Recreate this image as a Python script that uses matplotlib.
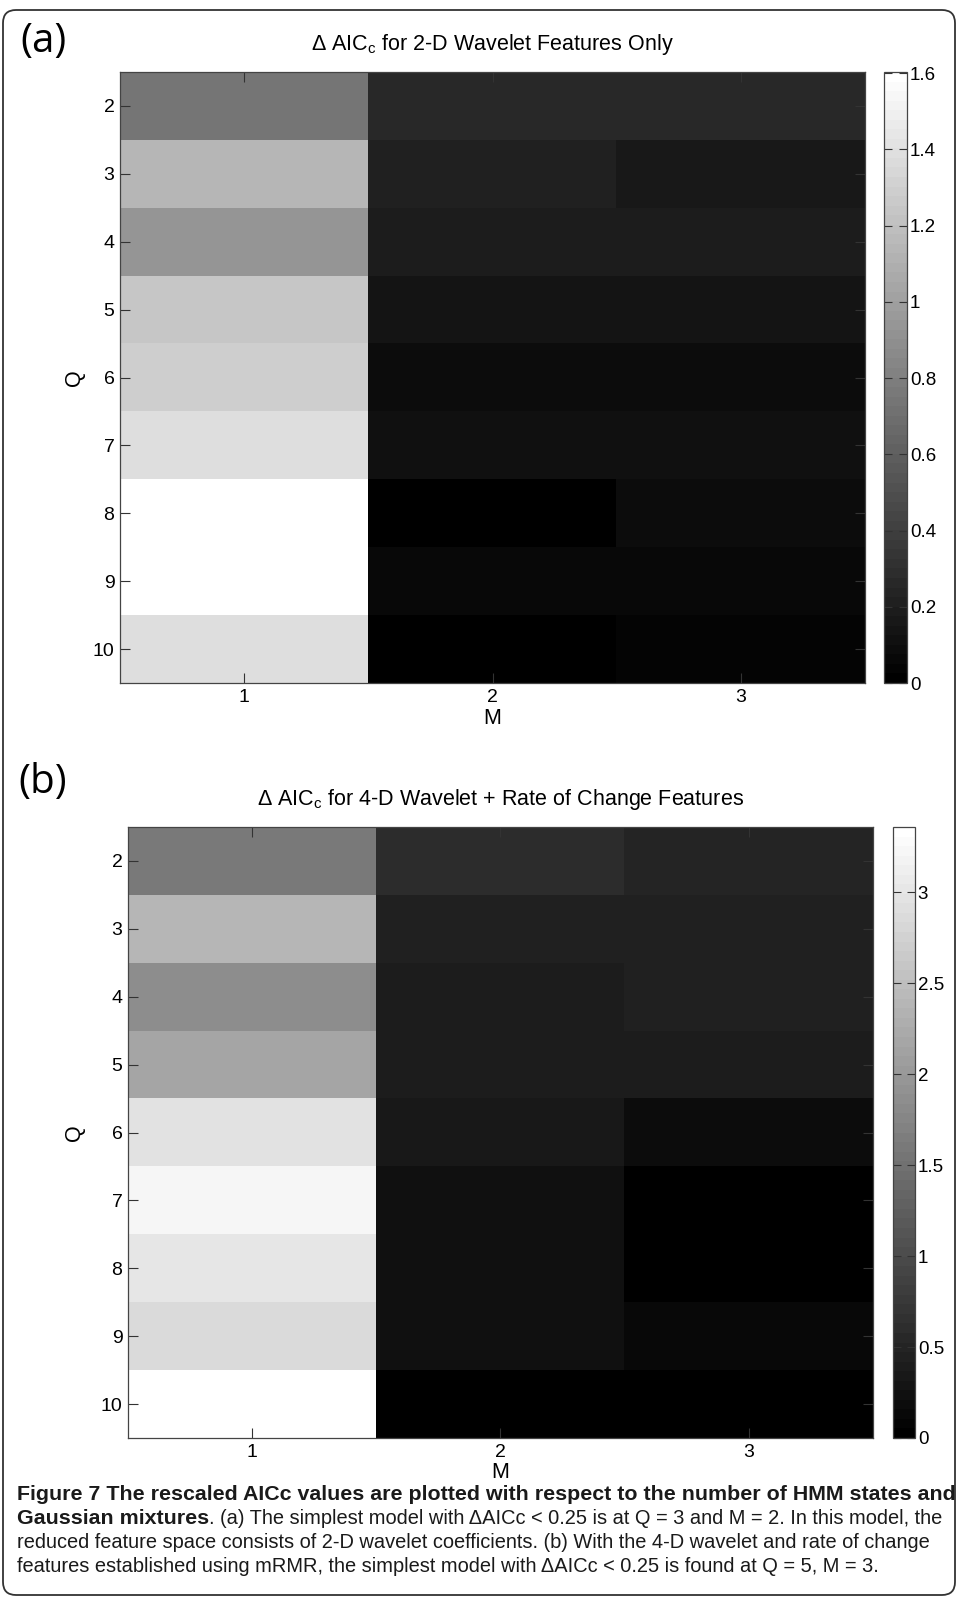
import matplotlib
matplotlib.use('Agg')
import matplotlib.pyplot as plt
from matplotlib import font_manager as fm
from matplotlib.patches import FancyBboxPatch
from matplotlib.ticker import FormatStrFormatter
import numpy as np

# ---- data (rows: Q = 2..10, columns: M = 1..3) ----
q_states = [2, 3, 4, 5, 6, 7, 8, 9, 10]
m_mix = [1, 2, 3]

aic_a_m1 = [0.75, 1.13, 0.94, 1.25, 1.28, 1.40, 1.60, 1.60, 1.40]
aic_a_m2 = [0.26, 0.21, 0.18, 0.14, 0.09, 0.11, 0.01, 0.06, 0.00]
aic_a_m3 = [0.27, 0.17, 0.18, 0.13, 0.08, 0.11, 0.10, 0.06, 0.04]

aic_b_m1 = [1.58, 2.37, 1.85, 2.19, 2.98, 3.23, 3.03, 2.85, 3.36]
aic_b_m2 = [0.61, 0.45, 0.37, 0.37, 0.32, 0.24, 0.21, 0.24, 0.00]
aic_b_m3 = [0.50, 0.45, 0.42, 0.37, 0.18, 0.05, 0.05, 0.13, 0.01]

clim_a = (0, 1.603)
clim_b = (0, 3.36)
cticks_a = [0, 0.2, 0.4, 0.6, 0.8, 1.0, 1.2, 1.4, 1.6]
cticks_b = [0, 0.5, 1.0, 1.5, 2.0, 2.5, 3.0]

title_a = r'$\Delta$ AIC$_\mathregular{c}$ for 2-D Wavelet Features Only'
title_b = r'$\Delta$ AIC$_\mathregular{c}$ for 4-D Wavelet + Rate of Change Features'


def have(name):
    try:
        fm.findfont(name, fallback_to_default=False)
        return True
    except Exception:
        return False


NARROW = 'Liberation Sans Narrow' if have('Liberation Sans Narrow') else 'Liberation Sans'
ARIAL = 'Liberation Sans'
plt.rcParams['font.family'] = [ARIAL, 'DejaVu Sans']
plt.rcParams['mathtext.fontset'] = 'custom'
plt.rcParams['mathtext.rm'] = NARROW
plt.rcParams['mathtext.it'] = NARROW

W, H = 958, 1600
fig = plt.figure(figsize=(W / 100, H / 100), dpi=100)
fig.patch.set_facecolor('white')


def box(x0, x1, y0, y1):
    # pixel box (top-left origin) -> figure fraction rect
    return [x0 / W, 1 - y1 / H, (x1 - x0) / W, (y1 - y0) / H]


def fx(x):
    return x / W


def fy(y):
    return 1 - y / H


# rounded frame around everything
frame = FancyBboxPatch((3 / 100, (H - 1595) / 100), 952 / 100, 1585 / 100,
                       boxstyle='round,pad=0,rounding_size=0.13',
                       transform=fig.dpi_scale_trans, fill=False,
                       edgecolor='#333333', linewidth=1.3)
fig.patches.append(frame)

cmap = plt.get_cmap('gray', 64)


def panel(ax_px, cax_px, cols, clim, cticks, title):
    left, right, top, bottom = ax_px
    data = np.column_stack(cols)
    ax = fig.add_axes(box(left, right, top, bottom))
    im = ax.imshow(data, cmap=cmap, vmin=clim[0], vmax=clim[1], aspect='auto',
                   interpolation='nearest',
                   extent=[0.5, len(m_mix) + 0.5, q_states[-1] + 0.5, q_states[0] - 0.5])
    ax.set_xticks(m_mix)
    ax.set_yticks(q_states)
    ax.set_xticklabels([str(m) for m in m_mix], fontsize=14, family=NARROW)
    ax.set_yticklabels([str(q) for q in q_states], fontsize=14)
    ax.tick_params(direction='in', length=7, width=0.8, color='#333333',
                   top=True, right=True, pad=4)
    for s in ax.spines.values():
        s.set_color('#444444')
        s.set_linewidth(0.9)
    ax.set_title(title, fontsize=15.5, family=NARROW, pad=16)

    cax = fig.add_axes(box(*cax_px))
    cb = fig.colorbar(im, cax=cax)
    cb.set_ticks(cticks)
    cb.ax.yaxis.set_major_formatter(FormatStrFormatter('%g'))
    cb.ax.tick_params(direction='in', length=6, width=0.8, color='#333333',
                      left=True, right=True, labelsize=13.5, pad=2)
    cb.outline.set_edgecolor('#444444')
    cb.outline.set_linewidth(0.9)

    fig.text(fx((left + right) / 2), fy(bottom + 35), 'M', fontsize=15.5,
             family=NARROW, ha='center', va='center')
    fig.text(fx(74), fy(top + (bottom - top) * 4.5 / 9), 'Q', fontsize=15.5,
             rotation=90, ha='center', va='center')
    return ax


panel((120, 865, 72, 683), (884, 907, 72, 683),
      [aic_a_m1, aic_a_m2, aic_a_m3], clim_a, cticks_a, title_a)
panel((128, 873, 827, 1438), (893, 915, 827, 1438),
      [aic_b_m1, aic_b_m2, aic_b_m3], clim_b, cticks_b, title_b)

# panel letters
LETTER = 'Open Sans' if have('Open Sans') else ARIAL
fig.text(fx(43), fy(42), '(a)', fontsize=29, family=LETTER, ha='center', va='center')
fig.text(fx(43), fy(783), '(b)', fontsize=29, family=LETTER, ha='center', va='center')

# ---- caption ----
cap1 = 'Figure 7 The rescaled AICc values are plotted with respect to the number of HMM states and'
cap2b = 'Gaussian mixtures'
cap2 = '. (a) The simplest model with \u0394AICc < 0.25 is at Q = 3 and M = 2. In this model, the'
cap3 = 'reduced feature space consists of 2-D wavelet coefficients. (b) With the 4-D wavelet and rate of change'
cap4 = 'features established using mRMR, the simplest model with \u0394AICc < 0.25 is found at Q = 5, M = 3.'

renderer = fig.canvas.get_renderer()


def fit_size(txt, weight, target_px):
    t = fig.text(0, 0, txt, fontsize=10, family=NARROW, weight=weight)
    w = t.get_window_extent(renderer).width
    t.remove()
    return 10 * target_px / w


bold_size = fit_size(cap1, 'bold', 935)
reg_size = fit_size(cap3, 'normal', 920)
x0 = 17
fig.text(fx(x0), fy(1495), cap1, fontsize=bold_size, family=NARROW,
         weight='bold', va='center', color='#1a1a1a')
tb = fig.text(fx(x0), fy(1519), cap2b, fontsize=bold_size, family=NARROW,
              weight='bold', va='center', color='#1a1a1a')
wb = tb.get_window_extent(renderer).width
fig.text(fx(x0 + wb), fy(1519), cap2, fontsize=reg_size, family=NARROW,
         va='center', color='#1a1a1a')
fig.text(fx(x0), fy(1543), cap3, fontsize=reg_size, family=NARROW,
         va='center', color='#1a1a1a')
fig.text(fx(x0), fy(1566), cap4, fontsize=reg_size, family=NARROW,
         va='center', color='#1a1a1a')

fig.savefig('out.png', dpi=100, facecolor='white')
